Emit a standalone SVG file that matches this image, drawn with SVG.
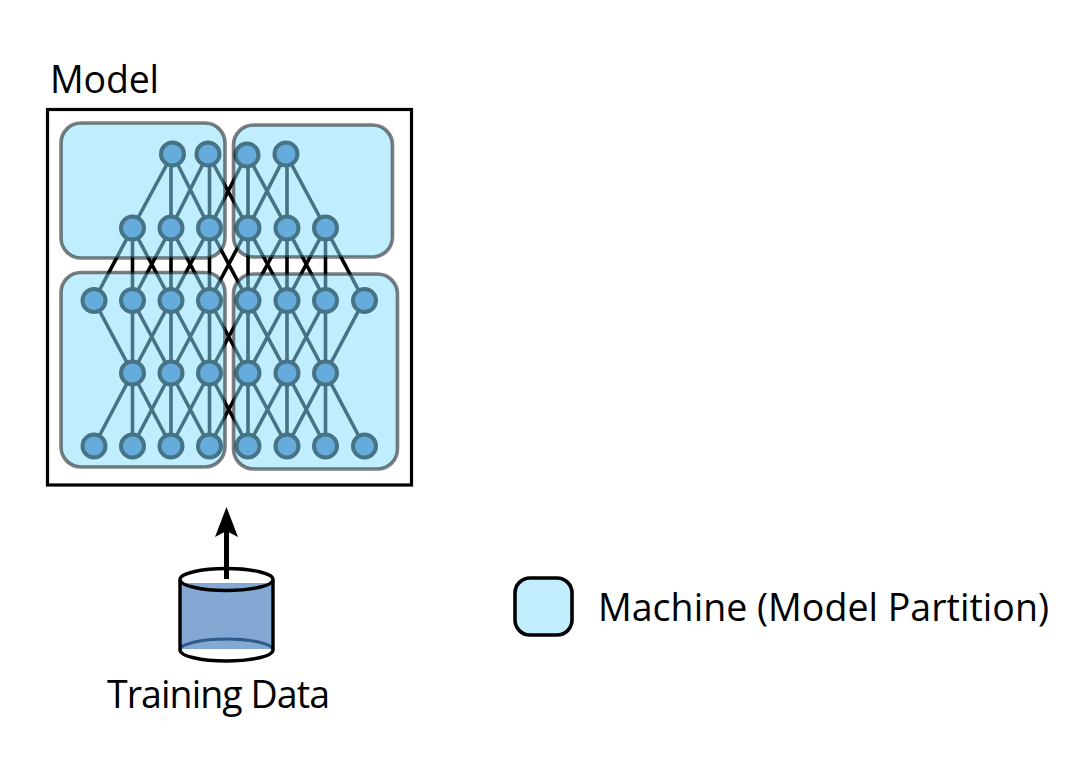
<svg xmlns="http://www.w3.org/2000/svg" width="1075" height="761" viewBox="0 0 1075 761">
<defs>
<style>
.t{font-family:"Open Sans","Noto Sans","Liberation Sans",sans-serif;font-size:37.500px;fill:#000}
.e{stroke:#000;stroke-width:3.600;fill:none}
.n{fill:#4274b5;stroke:#000;stroke-width:4}
.p{fill:#87dfff;fill-opacity:.52;stroke:#000;stroke-opacity:.5;stroke-width:3.600}
</style>
</defs>
<rect width="1075" height="761" fill="#fff"/>
<text class="t" x="50" y="93" textLength="109">Model</text>
<g id="frame"><rect x="47.500" y="109.500" width="364" height="375.500" fill="#fff" stroke="#000" stroke-width="3.200"/></g>
<g id="connectors" class="e">
<path d="M172.500 154L132.500 228M171 154L171 228M172.500 154L209.500 228M208 154L171 228M209.500 154L209.500 228M208 154L248 228M247 154L209.500 228M248 154L248 228M247 154L287 228M286 154L248 228M287 154L287 228M286 154L325.500 228"/>
<path d="M132.500 228L94 300.500M132.500 228L132.500 300.500M132.500 228L171 300.500M171 228L132.500 300.500M171 228L171 300.500M171 228L209.500 300.500M209.500 228L171 300.500M209.500 228L209.500 300.500M209.500 228L248 300.500M248 228L209.500 300.500M248 228L248 300.500M248 228L287 300.500M287 228L248 300.500M287 228L287 300.500M287 228L325.500 300.500M325.500 228L287 300.500M325.500 228L325.500 300.500M325.500 228L364 300.500"/>
<path d="M94 300.500L132.500 373M132.500 300.500L132.500 373M132.500 300.500L171 373M171 300.500L132.500 373M171 300.500L171 373M171 300.500L209.500 373M209.500 300.500L171 373M209.500 300.500L209.500 373M209.500 300.500L248 373M248 300.500L209.500 373M248 300.500L248 373M248 300.500L287 373M287 300.500L248 373M287 300.500L287 373M287 300.500L325.500 373M325.500 300.500L287 373M325.500 300.500L325.500 373M364 300.500L325.500 373"/>
<path d="M132.500 373L94 446M132.500 373L132.500 446M132.500 373L171 446M171 373L132.500 446M171 373L171 446M171 373L209.500 446M209.500 373L171 446M209.500 373L209.500 446M209.500 373L248 446M248 373L209.500 446M248 373L248 446M248 373L287 446M287 373L248 446M287 373L287 446M287 373L325.500 446M325.500 373L287 446M325.500 373L325.500 446M325.500 373L364 446"/>
</g>
<g id="neurons">
<g id="n1-1"><circle class="n" cx="172.500" cy="154" r="11.500"/></g>
<g id="n1-2"><circle class="n" cx="208" cy="154" r="11.500"/></g>
<g id="n1-3"><circle class="n" cx="247" cy="155" r="11.500"/></g>
<g id="n1-4"><circle class="n" cx="286" cy="154" r="11.500"/></g>
<g id="n2-1"><circle class="n" cx="132.500" cy="228" r="11.500"/></g>
<g id="n2-2"><circle class="n" cx="171" cy="228" r="11.500"/></g>
<g id="n2-3"><circle class="n" cx="209.500" cy="228" r="11.500"/></g>
<g id="n2-4"><circle class="n" cx="248" cy="228" r="11.500"/></g>
<g id="n2-5"><circle class="n" cx="287" cy="228" r="11.500"/></g>
<g id="n2-6"><circle class="n" cx="325.500" cy="228" r="11.500"/></g>
<g id="n3-1"><circle class="n" cx="94" cy="300.500" r="11.500"/></g>
<g id="n3-2"><circle class="n" cx="132.500" cy="300.500" r="11.500"/></g>
<g id="n3-3"><circle class="n" cx="171" cy="300.500" r="11.500"/></g>
<g id="n3-4"><circle class="n" cx="209.500" cy="300.500" r="11.500"/></g>
<g id="n3-5"><circle class="n" cx="248" cy="300.500" r="11.500"/></g>
<g id="n3-6"><circle class="n" cx="287" cy="300.500" r="11.500"/></g>
<g id="n3-7"><circle class="n" cx="325.500" cy="300.500" r="11.500"/></g>
<g id="n3-8"><circle class="n" cx="364.500" cy="300.500" r="11.500"/></g>
<g id="n4-1"><circle class="n" cx="132.500" cy="373" r="11.500"/></g>
<g id="n4-2"><circle class="n" cx="171" cy="373" r="11.500"/></g>
<g id="n4-3"><circle class="n" cx="209.500" cy="373" r="11.500"/></g>
<g id="n4-4"><circle class="n" cx="248" cy="373" r="11.500"/></g>
<g id="n4-5"><circle class="n" cx="287" cy="373" r="11.500"/></g>
<g id="n4-6"><circle class="n" cx="325.500" cy="373" r="11.500"/></g>
<g id="n5-1"><circle class="n" cx="94" cy="446" r="11.500"/></g>
<g id="n5-2"><circle class="n" cx="132.500" cy="446" r="11.500"/></g>
<g id="n5-3"><circle class="n" cx="171" cy="446" r="11.500"/></g>
<g id="n5-4"><circle class="n" cx="209.500" cy="446" r="11.500"/></g>
<g id="n5-5"><circle class="n" cx="248" cy="446" r="11.500"/></g>
<g id="n5-6"><circle class="n" cx="287" cy="446" r="11.500"/></g>
<g id="n5-7"><circle class="n" cx="325.500" cy="446" r="11.500"/></g>
<g id="n5-8"><circle class="n" cx="364.500" cy="446" r="11.500"/></g>
</g>
<g id="machines">
<g id="machine-tl"><rect class="p" x="61" y="123" width="164" height="135" rx="20"/></g>
<g id="machine-tr"><rect class="p" x="233.500" y="125" width="159" height="132" rx="20"/></g>
<g id="machine-bl"><rect class="p" x="61" y="272.500" width="164" height="194.500" rx="20"/></g>
<g id="machine-br"><rect class="p" x="233.500" y="274" width="164" height="195" rx="20"/></g>
</g>
<g id="training-data">
<rect x="180" y="583" width="93" height="66" fill="#84a8d4"/>
<path d="M180 650A46.500 11 0 0 1 273 650" fill="none" stroke="#2f5a8c" stroke-width="3"/>
<path d="M180 580V650A46.500 11 0 0 0 273 650V580" fill="none" stroke="#000" stroke-width="3.400"/>
<ellipse cx="226.500" cy="579.500" rx="46.500" ry="11" fill="none" stroke="#000" stroke-width="3.400"/>
</g>
<g id="arrow">
<path d="M226.500 579V530" fill="none" stroke="#000" stroke-width="5"/>
<path d="M226.500 507L238 537L226.500 531L215 537Z" fill="#000"/>
</g>
<text class="t" x="107" y="708" textLength="223">Training Data</text>
<g id="legend">
<rect x="515" y="578" width="57" height="57" rx="15" fill="#c1edff" stroke="#000" stroke-width="3.600"/>
<text class="t" x="598" y="621" textLength="451">Machine (Model Partition)</text>
</g>
</svg>
